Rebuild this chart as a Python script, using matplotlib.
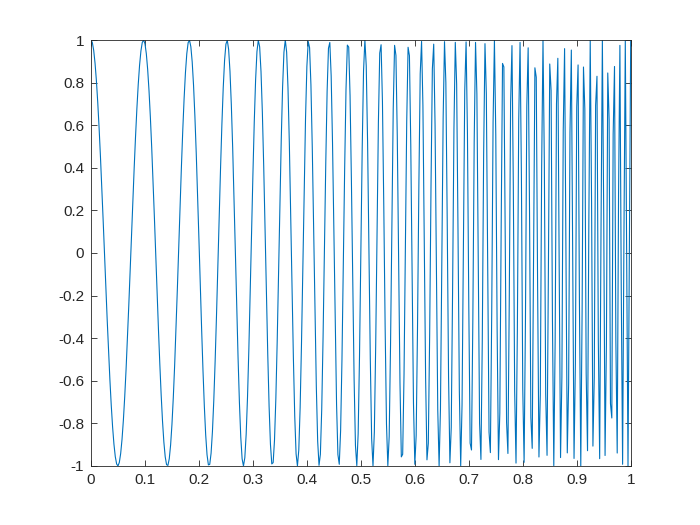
import numpy as np
import matplotlib
matplotlib.use("Agg")
import matplotlib.pyplot as plt

# Quadratic chirp, parameters
f0 = 10.0      # Hz at t = 0
f1 = 100.0     # Hz at t = t1
t1 = 1.0
fs = 400.0     # sample rate
t = np.arange(0, 1 + 1e-9, 1 / fs)
beta = (f1 - f0) / t1**2
y = np.cos(2 * np.pi * (f0 * t + beta * t**3 / 3))

xticks = [0, 0.1, 0.2, 0.3, 0.4, 0.5, 0.6, 0.7, 0.8, 0.9, 1]
xticklabels = ["0", "0.1", "0.2", "0.3", "0.4", "0.5", "0.6", "0.7", "0.8", "0.9", "1"]
yticks = [-1, -0.8, -0.6, -0.4, -0.2, 0, 0.2, 0.4, 0.6, 0.8, 1]
yticklabels = ["-1", "-0.8", "-0.6", "-0.4", "-0.2", "0", "0.2", "0.4", "0.6", "0.8", "1"]

plt.rcParams['font.family'] = ['Liberation Sans', 'DejaVu Sans']
fig = plt.figure(figsize=(7, 5.25), dpi=100)
ax = fig.add_axes([0.13, 0.1124, 0.771, 0.8114])
ax.plot(t, y, color='#0072BD', lw=0.8)
ax.set_xlim(0, 1)
ax.set_ylim(-1, 1)
ax.set_xticks(xticks)
ax.set_xticklabels(xticklabels)
ax.set_yticks(yticks)
ax.set_yticklabels(yticklabels)
ax.tick_params(direction='in', top=True, right=True, length=4, width=0.6,
               labelsize=11, colors='#262626', pad=5)
for s in ax.spines.values():
    s.set_linewidth(0.6)
    s.set_color('#262626')
fig.savefig("out.png", dpi=100)
